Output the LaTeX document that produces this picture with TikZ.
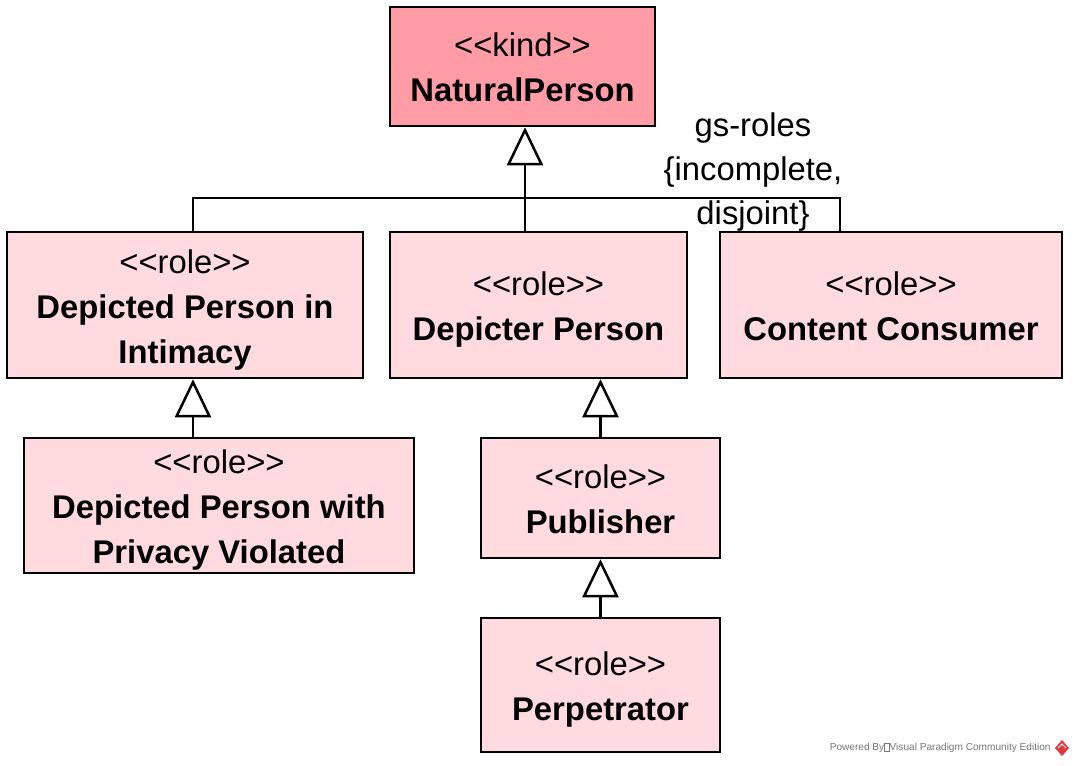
\documentclass[tikz,border=0pt]{standalone}
\usepackage{fontspec}
\setmainfont{Liberation Sans}[Ligatures=TeXOff]
\usetikzlibrary{arrows.meta,calc}
\definecolor{kindfill}{HTML}{FF9CA6}
\definecolor{rolefill}{HTML}{FFDADE}
\definecolor{vpgray}{HTML}{777777}
\definecolor{vpred}{HTML}{E0383E}
\newcommand{\sr}{\rule[-4pt]{0pt}{21pt}}
\begin{document}
\begin{tikzpicture}[x=0.5pt,y=-0.5pt,
  umlbox/.style={draw, line width=1.25pt, fill=rolefill, align=center, inner sep=0pt,
    font=\fontsize{16.4}{22.5}\selectfont},
  kindbox/.style={umlbox, fill=kindfill},
  conn/.style={line width=1.25pt},
  gen/.style={conn, -{Triangle[open, length=19pt, width=18pt, fill=white, line width=1.25pt]}},
  lbl/.style={align=center, inner sep=0pt, font=\fontsize{16.4}{22}\selectfont},
  foot/.style={inner sep=0pt, text=vpgray, font=\fontsize{5.05}{6}\selectfont}]
\useasboundingbox (0,0) rectangle (1074,765);
\fill[white] (0,0) rectangle (1074,765);

\node[kindbox, minimum width=132.5pt, minimum height=59.5pt] (np) at (522.5,66.5)
  {\sr<<kind>>\\\sr\textbf{NaturalPerson}};
\node[umlbox, minimum width=178pt, minimum height=73pt] (dpi) at (185,305)
  {\sr<<role>>\\\sr\textbf{Depicted Person in}\\\sr\textbf{Intimacy}};
\node[umlbox, minimum width=148.5pt, minimum height=73pt] (dep) at (538.5,305)
  {\sr<<role>>\\\sr\textbf{Depicter Person}};
\node[umlbox, minimum width=171pt, minimum height=73pt] (cc) at (891,305)
  {\sr<<role>>\\\sr\textbf{Content Consumer}};
\node[umlbox, minimum width=195pt, minimum height=67.5pt] (dpv) at (219,505.5)
  {\sr<<role>>\\\sr\textbf{Depicted Person with}\\\sr\textbf{Privacy Violated}};
\node[umlbox, minimum width=119.5pt, minimum height=60pt] (pub) at (600.5,498)
  {\sr<<role>>\\\sr\textbf{Publisher}};
\node[umlbox, minimum width=119.5pt, minimum height=67pt] (perp) at (600.5,685)
  {\sr<<role>>\\\sr\textbf{Perpetrator}};

% generalization set gs-roles
\coordinate (j1) at ([xshift=4pt]dpi.north);
\coordinate (j2) at ([xshift=-25.5pt]cc.north);
\coordinate (bar) at (0,198);
\draw[conn] (j1) -- (j1 |- bar) -- (j2 |- bar) -- (j2);
\draw[gen] ([xshift=-6.75pt]dep.north) -- ([xshift=-6.75pt]dep.north |- np.south);
\node[lbl] (gsl) at (753,172.5) {gs-roles\\\{incomplete,\\disjoint\}};

% other generalizations
\draw[gen] ([xshift=4pt]dpi.south |- dpv.north) -- ([xshift=4pt]dpi.south);
\draw[gen] (pub.north) -- (pub.north |- dep.south);
\draw[gen] (perp.north) -- (perp.north |- pub.south);

% footer
\node[foot, anchor=east] (vp) at (1051,748)
  {Powered By{\fboxsep=0pt\fboxrule=0.2pt\fbox{\phantom{\rule{2.3pt}{3.8pt}}}}Visual Paradigm Community Edition};
\fill[vpred] (1062,740) -- (1069,748) -- (1062,756) -- (1055,748) -- cycle;
\draw[white, line width=0.4pt] (1058,748) -- (1062,744) -- (1066,748);
\end{tikzpicture}
\end{document}
